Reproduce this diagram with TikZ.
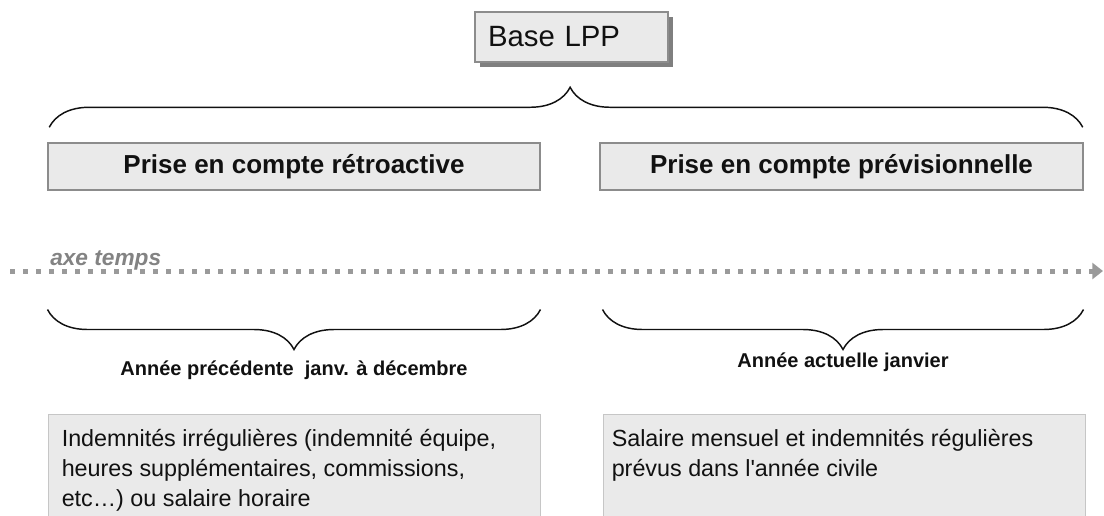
\documentclass[tikz,border=0pt]{standalone}
\usepackage{fontspec}
\setmainfont{Liberation Sans}
\usetikzlibrary{arrows.meta,positioning,calc,shadows,decorations.pathreplacing}
\definecolor{boxfill}{HTML}{EAEAEA}
\definecolor{boxline}{HTML}{8C8C8C}
\definecolor{paneline}{HTML}{C6C6C6}
\definecolor{shade}{HTML}{7F7F7F}
\definecolor{axis}{HTML}{9A9A9A}
\definecolor{ink}{HTML}{111111}

\begin{document}
\begin{tikzpicture}[
    x=0.75pt, y=-0.75pt,
    basebox/.style={rectangle, draw=boxline, fill=boxfill, line width=1.1pt,
                    minimum height=37.5pt, inner xsep=9.75pt, inner ysep=0pt,
                    text width=125.25pt, align=left, text=ink,
                    font=\fontsize{22}{26}\selectfont,
                    drop shadow={shadow xshift=3.75pt, shadow yshift=-3.75pt, fill=shade, opacity=1}},
    title/.style={rectangle, draw=boxline, fill=boxfill, line width=1.1pt,
                  minimum width=#1, minimum height=35.25pt, inner sep=0pt,
                  text=ink, font=\fontsize{19.5}{23}\selectfont\bfseries},
    pane/.style={rectangle, draw=paneline, fill=boxfill, line width=0.75pt,
                 minimum width=#1, minimum height=90pt, inner sep=0pt},
    panetext/.style={inner sep=0pt, align=left, text=ink, anchor=north west,
                     font=\fontsize{17.5}{22.5}\selectfont},
    period/.style={inner sep=0pt, text=ink, font=\fontsize{15}{18}\selectfont\bfseries},
    axislabel/.style={inner sep=0pt, text=axis!85!black, font=\fontsize{17}{20}\selectfont\bfseries\itshape},
    curly/.style={decorate, decoration={brace, amplitude=30pt, aspect=#1},
                  line width=1.1pt, draw=ink},
    curly/.default=0.5,
    timeline/.style={draw=axis, line width=3.75pt, dash pattern=on 3.75pt off 6pt,
                     -{Triangle[length=8pt, width=12pt]}}
  ]

\useasboundingbox (0,0) rectangle (1104,515);
\clip (0,0) rectangle (1104,515);

% ---------------- top ----------------
\node[basebox] (base) at (571.5,37) {Base LPP};

\node[title=369pt]    (rL) at (294,166.5)   {Prise en compte rétroactive};
\node[title=362.25pt] (rR) at (841.5,166.5) {Prise en compte prévisionnelle};

% brace grouping both parts
\draw[curly=0.504] ($(rL.north west)+(2,-15)$) -- ($(rR.north east)+(-1,-15)$);

% ---------------- time axis ----------------
\coordinate (axL) at (10,271);
\coordinate (axR) at (1103,271);
\draw[timeline] (axL) -- (axR);
\node[axislabel, anchor=base west] (axe) at (50,265) {axe temps};

% ---------------- periods ----------------
\node[pane=369pt]   (bL) at (294,474) {};
\node[pane=361.5pt] (bR) at (844,474) {};

\draw[curly] ($(bL.north east)+(0,-104)$) -- ($(bL.north west)+(0,-104)$);
\draw[curly] ($(bR.north east)+(-2,-104)$) -- ($(bR.north west)+(0,-104)$);

\node[period] (pL) at (294,370) {Année précédente~ janv. à décembre};
\node[period] (pR) at (843,362) {Année actuelle janvier};

% ---------------- contents ----------------
\node[panetext] (tL) at ($(bL.north west)+(14,16)$)
  {Indemnités irrégulières (indemnité équipe,\\
   heures supplémentaires, commissions,\\
   etc…) ou salaire horaire};
\node[panetext] (tR) at ($(bR.north west)+(9,16)$)
  {Salaire mensuel et indemnités régulières\\
   prévus dans l\textquotesingle année civile};

\end{tikzpicture}
\end{document}
